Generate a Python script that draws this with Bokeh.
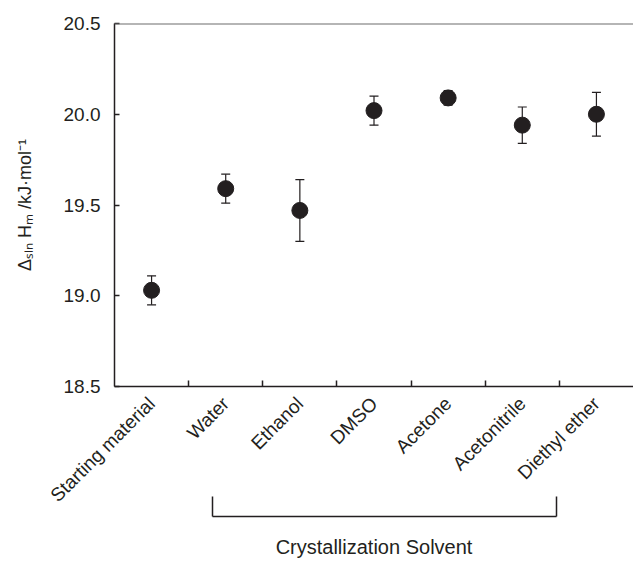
import numpy as np
from bokeh.plotting import figure
from bokeh.models import (ColumnDataSource, Whisker, TeeHead, FixedTicker, LinearAxis,
                          Range1d, Span, NumeralTickFormatter, CustomJSTickFormatter)
from bokeh.embed import file_html
from bokeh.resources import INLINE

# ---- data ----
categories = ["Starting material", "Water", "Ethanol", "DMSO", "Acetone",
              "Acetonitrile", "Diethyl ether"]
dH_sln = [19.03, 19.59, 19.47, 20.02, 20.09, 19.94, 20.00]
dH_err = [0.08, 0.08, 0.17, 0.08, 0.04, 0.10, 0.12]
y_ticks = [18.5, 19.0, 19.5, 20.0, 20.5]
group_label = "Crystallization Solvent"
y_label = "\u0394\u209b\u2097\u2099 H\u2098 /kJ\u00b7mol\u207b\u00b9"

# ---- derived ----
n = len(categories)
xc = [i + 0.5 for i in range(n)]
src = ColumnDataSource(dict(
    x=xc, y=dH_sln,
    upper=[v + e for v, e in zip(dH_sln, dH_err)],
    lower=[v - e for v, e in zip(dH_sln, dH_err)],
))

INK = "#231f20"
FONT = "Liberation Sans"

p = figure(width=633, height=560, x_range=Range1d(0, n), y_range=Range1d(18.5, 20.5),
           output_backend="svg", toolbar_location=None,
           x_axis_location=None, y_axis_location=None,
           min_border_left=114, min_border_right=0, min_border_top=23, min_border_bottom=150)
p.outline_line_color = None
p.xgrid.visible = False
p.ygrid.visible = False
p.background_fill_color = "white"

# y axis
yax = LinearAxis(ticker=FixedTicker(ticks=y_ticks, minor_ticks=[]),
                 formatter=NumeralTickFormatter(format="0.0"))
yax.axis_label = y_label
yax.axis_line_color = INK
yax.axis_line_width = 1.5
yax.major_tick_in = 5
yax.major_tick_out = 0
yax.major_tick_line_color = INK
yax.major_tick_line_width = 1.5
yax.major_label_text_font = FONT
yax.major_label_text_font_size = "19px"
yax.major_label_text_color = INK
yax.major_label_standoff = 14
yax.axis_label_text_font = FONT
yax.axis_label_text_font_size = "18px"
yax.axis_label_text_font_style = "normal"
yax.axis_label_text_color = INK
yax.axis_label_standoff = 26
p.add_layout(yax, "left")

# category x axis (labels at centers, ticks at boundaries)
xax = LinearAxis(ticker=FixedTicker(ticks=xc, minor_ticks=list(range(1, n))),
                 formatter=CustomJSTickFormatter(args=dict(labels=categories),
                                                 code="return labels[Math.floor(tick)];"))
xax.axis_line_color = INK
xax.axis_line_width = 1.5
xax.major_tick_line_color = None
xax.minor_tick_in = 6
xax.minor_tick_out = 0
xax.minor_tick_line_color = INK
xax.minor_tick_line_width = 1.5
xax.major_label_orientation = np.pi / 4
xax.major_label_text_font = FONT
xax.major_label_text_font_size = "19px"
xax.major_label_text_color = INK
xax.major_label_standoff = 8
p.add_layout(xax, "below")

# bracket axis for the solvent group
bax = LinearAxis(ticker=FixedTicker(ticks=[1.32, 5.96], minor_ticks=[]),
                 formatter=CustomJSTickFormatter(code="return '';"),
                 bounds=(1.32, 5.96))
bax.axis_line_color = INK
bax.axis_line_width = 1.5
bax.major_tick_in = 20
bax.major_tick_out = 0
bax.major_tick_line_color = INK
bax.major_tick_line_width = 1.5
bax.major_label_standoff = 0
bax.axis_label = group_label
bax.axis_label_text_font = FONT
bax.axis_label_text_font_size = "20px"
bax.axis_label_text_font_style = "normal"
bax.axis_label_text_color = INK
bax.axis_label_standoff = 19
p.add_layout(bax, "below")

# top border line
p.add_layout(Span(location=20.5, dimension="width", line_color="#6d6d6d", line_width=2))

# error bars
p.add_layout(Whisker(source=src, base="x", upper="upper", lower="lower", dimension="height",
                     line_color=INK, line_width=1.2,
                     upper_head=TeeHead(size=9, line_color=INK, line_width=1.2),
                     lower_head=TeeHead(size=9, line_color=INK, line_width=1.2)))

# points
p.scatter("x", "y", source=src, size=16, fill_color=INK, line_color=INK)

open("out.html", "w").write(file_html(p, INLINE))
